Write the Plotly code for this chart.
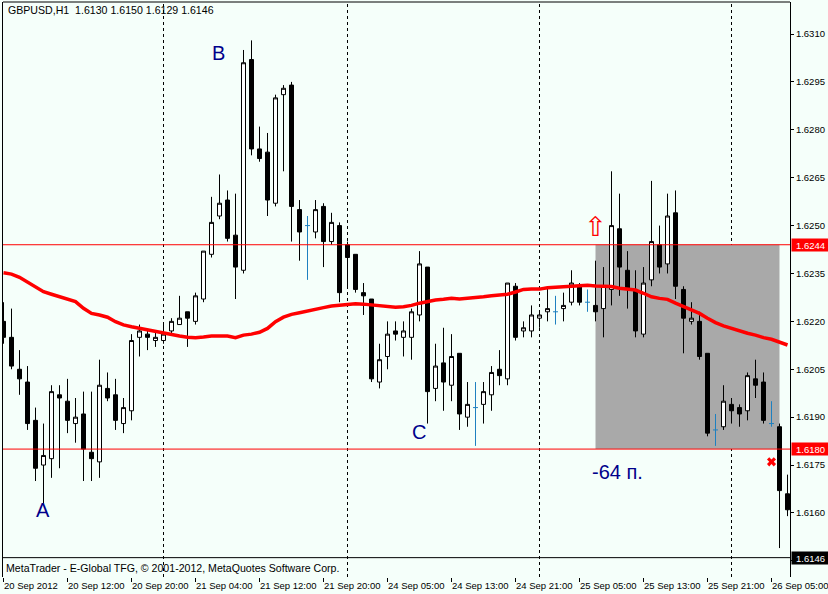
import plotly.graph_objects as go

# ---------------- data ----------------
symbol_title = "GBPUSD,H1\u00a0\u00a01.6130 1.6150 1.6129 1.6146"
copyright_text = "MetaTrader - E-Global TFG, © 2001-2012, MetaQuotes Software Corp."

tick_bars = [0, 8, 16, 24, 32, 40, 48, 56, 64, 72, 80, 88, 96]
tick_labels = ["20 Sep 2012", "20 Sep 12:00", "20 Sep 20:00", "21 Sep 04:00",
               "21 Sep 12:00", "21 Sep 20:00", "24 Sep 05:00", "24 Sep 13:00",
               "24 Sep 21:00", "25 Sep 05:00", "25 Sep 13:00", "25 Sep 21:00",
               "26 Sep 05:00"]
day_separators = [20, 43, 67, 91]
price_ticks = [1.6145, 1.6160, 1.6175, 1.6190, 1.6205, 1.6220, 1.6235,
               1.6250, 1.6265, 1.6280, 1.6295, 1.6310]

opens = [1.6220, 1.6215, 1.6205, 1.6201, 1.6189, 1.6175, 1.6177, 1.6197, 1.6195, 1.6188,
         1.6191, 1.6179, 1.6176, 1.6199, 1.6197, 1.6188, 1.6192, 1.6215, 1.6216, 1.6214,
         1.6214, 1.6217, 1.6219, 1.6223, 1.6220, 1.6227, 1.6241, 1.6253, 1.6258, 1.6247,
         1.6236, 1.6302, 1.6274, 1.6273, 1.6257, 1.6291, 1.6294, 1.6255, 1.6250, 1.6248,
         1.6256, 1.6245, 1.6250, 1.6244, 1.6241, 1.6229, 1.6227, 1.6201, 1.6209, 1.6217,
         1.6215, 1.6215, 1.6222, 1.6237, 1.6199, 1.6207, 1.6200, 1.6210, 1.6190, 1.6193,
         1.6194, 1.6197, 1.6205, 1.6202, 1.6231, 1.6217, 1.6217, 1.6221, 1.6223, 1.6223,
         1.6224, 1.6226, 1.6231, 1.6226, 1.6225, 1.6224, 1.6230, 1.6249, 1.6236, 1.6230,
         1.6216, 1.6233, 1.6244, 1.6238, 1.6254, 1.6230, 1.6220, 1.6220, 1.6210, 1.6186,
         1.6187, 1.6194, 1.6193, 1.6192, 1.6202, 1.6201, 1.6188, 1.6187, 1.6166]
highs = [1.6226, 1.6224, 1.6211, 1.6206, 1.6193, 1.6188, 1.6200, 1.6200, 1.6202, 1.6196,
         1.6198, 1.6198, 1.6208, 1.6204, 1.6202, 1.6196, 1.6216, 1.6219, 1.6217, 1.6217,
         1.6219, 1.6221, 1.6228, 1.6223, 1.6229, 1.6242, 1.6259, 1.6266, 1.6261, 1.6260,
         1.6305, 1.6308, 1.6281, 1.6279, 1.6291, 1.6294, 1.6295, 1.6258, 1.6253, 1.6258,
         1.6257, 1.6254, 1.6251, 1.6245, 1.6241, 1.6232, 1.6227, 1.6213, 1.6220, 1.6220,
         1.6220, 1.6224, 1.6242, 1.6237, 1.6213, 1.6218, 1.6216, 1.6210, 1.6201, 1.6201,
         1.6201, 1.6206, 1.6211, 1.6232, 1.6232, 1.6220, 1.6225, 1.6223, 1.6231, 1.6228,
         1.6229, 1.6236, 1.6232, 1.6230, 1.6239, 1.6237, 1.6267, 1.6260, 1.6242, 1.6236,
         1.6237, 1.6264, 1.6250, 1.6260, 1.6261, 1.6231, 1.6226, 1.6223, 1.6210, 1.6191,
         1.6200, 1.6196, 1.6194, 1.6204, 1.6208, 1.6204, 1.6195, 1.6188, 1.6172]
lows = [1.6213, 1.6205, 1.6197, 1.6186, 1.6170, 1.6163, 1.6171, 1.6174, 1.6185, 1.6182,
        1.6170, 1.6170, 1.6171, 1.6195, 1.6186, 1.6185, 1.6189, 1.6209, 1.6211, 1.6212,
        1.6213, 1.6216, 1.6219, 1.6212, 1.6219, 1.6226, 1.6240, 1.6252, 1.6245, 1.6227,
        1.6235, 1.6272, 1.6270, 1.6253, 1.6256, 1.6267, 1.6245, 1.6239, 1.6233, 1.6246,
        1.6237, 1.6244, 1.6226, 1.6231, 1.6229, 1.6222, 1.6201, 1.6199, 1.6205, 1.6214,
        1.6209, 1.6208, 1.6220, 1.6188, 1.6195, 1.6192, 1.6195, 1.6186, 1.6187, 1.6181,
        1.6188, 1.6192, 1.6200, 1.6200, 1.6214, 1.6215, 1.6215, 1.6218, 1.6220, 1.6219,
        1.6220, 1.6225, 1.6225, 1.6223, 1.6220, 1.6215, 1.6225, 1.6228, 1.6224, 1.6215,
        1.6215, 1.6231, 1.6235, 1.6235, 1.6227, 1.6210, 1.6219, 1.6208, 1.6184, 1.6181,
        1.6186, 1.6188, 1.6187, 1.6189, 1.6196, 1.6188, 1.6187, 1.6149, 1.6159]
closes = [1.6215, 1.6206, 1.6202, 1.6188, 1.6174, 1.6178, 1.6198, 1.6196, 1.6189, 1.6190,
          1.6180, 1.6177, 1.6200, 1.6196, 1.6189, 1.6193, 1.6214, 1.6217, 1.6215, 1.6215,
          1.6216, 1.6220, 1.6221, 1.6221, 1.6228, 1.6242, 1.6251, 1.6257, 1.6246, 1.6237,
          1.6301, 1.6274, 1.6271, 1.6258, 1.6290, 1.6293, 1.6256, 1.6248, 1.6250, 1.6255,
          1.6245, 1.6251, 1.6229, 1.6240, 1.6230, 1.6228, 1.6202, 1.6208, 1.6216, 1.6216,
          1.6217, 1.6223, 1.6238, 1.6198, 1.6206, 1.6201, 1.6209, 1.6191, 1.6194, 1.6193,
          1.6198, 1.6204, 1.6203, 1.6232, 1.6215, 1.6218, 1.6222, 1.6222, 1.6224, 1.6223,
          1.6225, 1.6232, 1.6226, 1.6226, 1.6223, 1.6231, 1.6250, 1.6237, 1.6230, 1.6217,
          1.6232, 1.6245, 1.6237, 1.6253, 1.6231, 1.6221, 1.6221, 1.6209, 1.6185, 1.6186,
          1.6195, 1.6192, 1.6191, 1.6203, 1.6200, 1.6189, 1.6188, 1.6167, 1.6161]
moving_average = [1.62352, 1.62348, 1.62338, 1.62324, 1.62307, 1.62293, 1.62285, 1.62277, 1.62270, 1.62262,
                  1.62241, 1.62225, 1.62220, 1.62213, 1.62199, 1.62189, 1.62183, 1.62178, 1.62173, 1.62168,
                  1.62163, 1.62157, 1.62154, 1.62150, 1.62149, 1.62151, 1.62154, 1.62154, 1.62154, 1.62149,
                  1.62157, 1.62160, 1.62166, 1.62178, 1.62199, 1.62213, 1.62222, 1.62227, 1.62233, 1.62238,
                  1.62243, 1.62248, 1.62250, 1.62253, 1.62255, 1.62254, 1.62251, 1.62248, 1.62246, 1.62244,
                  1.62246, 1.62250, 1.62257, 1.62262, 1.62267, 1.62269, 1.62272, 1.62270, 1.62272, 1.62273,
                  1.62277, 1.62280, 1.62283, 1.62285, 1.62292, 1.62300, 1.62301, 1.62301, 1.62305, 1.62307,
                  1.62309, 1.62311, 1.62313, 1.62313, 1.62311, 1.62311, 1.62309, 1.62304, 1.62300, 1.62298,
                  1.62288, 1.62277, 1.62272, 1.62269, 1.62257, 1.62246, 1.62236, 1.62225, 1.62210, 1.62196,
                  1.62186, 1.62178, 1.62170, 1.62163, 1.62157, 1.62149, 1.62144, 1.62136, 1.62126]

# trade box / levels
trade_start_bar = 74
trade_end_bar = 97
entry_level = 1.6244
stop_level = 1.6180
bid_level = 1.6146
signal_bar = [74]
signal_price = [1.6249]
exit_bar = [96]
exit_price = [1.6176]

# chart labels
label_texts = ["A", "B", "C", "-64 п."]
label_bars = [4.9, 26.9, 51.9, 76.8]
label_prices = [1.61608, 1.63039, 1.61852, 1.61727]

# ---------------- styles ----------------
BG = "#F5FFFA"
FONT = "Liberation Sans, Arial, sans-serif"
FS = 9.5
FS_INFO = 10.6
DOJI_COLOR = "#1E80C0"
LABEL_COLOR = "#00008B"

bars = list(range(len(opens)))
body_idx = [i for i in bars if opens[i] != closes[i]]
doji_idx = [i for i in bars if opens[i] == closes[i]]

fig = go.Figure()

fig.add_trace(go.Candlestick(
    x=body_idx,
    open=[opens[i] for i in body_idx],
    high=[highs[i] for i in body_idx],
    low=[lows[i] for i in body_idx],
    close=[closes[i] for i in body_idx],
    increasing=dict(line=dict(color="black", width=1), fillcolor="white"),
    decreasing=dict(line=dict(color="black", width=1), fillcolor="black"),
    whiskerwidth=0,
    hoverinfo="skip",
    showlegend=False,
))

dx, dy = [], []
for i in doji_idx:
    dx += [i, i, None, i - 0.31, i + 0.31, None]
    dy += [lows[i], highs[i], None, opens[i], opens[i], None]
fig.add_trace(go.Scatter(x=dx, y=dy, mode="lines",
                         line=dict(color=DOJI_COLOR, width=1),
                         hoverinfo="skip", showlegend=False))

fig.add_trace(go.Scatter(x=bars, y=moving_average, mode="lines",
                         line=dict(color="#FF0000", width=3.5),
                         hoverinfo="skip", showlegend=False))

fig.add_trace(go.Scatter(x=signal_bar, y=signal_price, mode="text", text=["\u21e7"],
                         textfont=dict(family="DejaVu Sans", size=27, color="#FF0000"),
                         hoverinfo="skip", showlegend=False))
fig.add_trace(go.Scatter(x=exit_bar, y=exit_price, mode="markers",
                         marker=dict(symbol="x", size=8, color="#FF0000", line=dict(width=0)),
                         hoverinfo="skip", showlegend=False))

shapes = []
shapes.append(dict(type="rect", xref="x", yref="y", x0=trade_start_bar, x1=trade_end_bar,
                   y0=stop_level, y1=entry_level, fillcolor="#A9A9A9",
                   line=dict(width=0), layer="below"))
for b in day_separators:
    shapes.append(dict(type="line", xref="x", yref="paper", x0=b, x1=b, y0=0, y1=1,
                       line=dict(color="black", width=1, dash="3px,3px"), layer="below"))
for lv in [entry_level, stop_level]:
    shapes.append(dict(type="line", xref="paper", yref="y", x0=0, x1=1, y0=lv, y1=lv,
                       line=dict(color="#FF0000", width=1)))
shapes.append(dict(type="line", xref="paper", yref="y", x0=0, x1=1, y0=bid_level, y1=bid_level,
                   line=dict(color="black", width=1)))
shapes.append(dict(type="line", xref="paper", yref="paper", x0=0, x1=1, y0=1, y1=1,
                   line=dict(color="black", width=1)))

annotations = []
for lv, col in [(entry_level, "#FF0000"), (stop_level, "#FF0000"), (bid_level, "black")]:
    annotations.append(dict(xref="paper", yref="y", x=1, y=lv, xanchor="left", yanchor="middle",
                            xshift=1, text=f"{lv:.4f}", showarrow=False, bgcolor=col,
                            font=dict(family=FONT, size=FS, color="white"),
                            width=35, height=10, borderpad=1, align="center"))
annotations.append(dict(xref="paper", yref="paper", x=0, y=1, xanchor="left", yanchor="middle",
                        xshift=3, yshift=-8, text=symbol_title, showarrow=False,
                        font=dict(family=FONT, size=FS_INFO, color="black")))
annotations.append(dict(xref="paper", yref="paper", x=0, y=0, xanchor="left", yanchor="middle",
                        xshift=1, yshift=9, text=copyright_text, showarrow=False,
                        font=dict(family=FONT, size=FS_INFO, color="black")))
for t, b, p in zip(label_texts, label_bars, label_prices):
    annotations.append(dict(xref="x", yref="y", x=b, y=p, text=t, showarrow=False,
                            xanchor="center", yanchor="middle",
                            font=dict(family=FONT, size=20, color=LABEL_COLOR)))

fig.update_layout(
    width=828, height=594,
    margin=dict(l=3, r=38, t=2, b=17, pad=0, autoexpand=False),
    paper_bgcolor=BG, plot_bgcolor=BG,
    showlegend=False,
    boxgap=0.5, boxgroupgap=0,
    shapes=shapes, annotations=annotations,
    font=dict(family=FONT, size=FS, color="black"),
    xaxis=dict(range=[-0.0625, 98.3125], showgrid=False, zeroline=False, showline=False,
               tickmode="array", tickvals=tick_bars, ticktext=tick_labels,
               ticks="outside", ticklen=4, tickcolor="black", tickwidth=1,
               tickangle=0, automargin=False,
               ticklabelposition="outside right", ticklabeloverflow="allow",
               tickfont=dict(family=FONT, size=FS, color="black"),
               rangeslider=dict(visible=False), fixedrange=True),
    yaxis=dict(side="right", range=[1.6139941, 1.6320022], showgrid=False, zeroline=False,
               showline=True, mirror=True, linecolor="black", linewidth=1,
               automargin=False,
               tickmode="array", tickvals=price_ticks,
               ticktext=[f"{v:.4f}" for v in price_ticks],
               ticks="outside", ticklen=3, tickcolor="black", tickwidth=1,
               tickfont=dict(family=FONT, size=FS, color="black"), fixedrange=True),
)

fig.write_html("out.html", config={"displayModeBar": False},
               post_script="document.body.style.margin='0';document.body.style.overflow='hidden';")
